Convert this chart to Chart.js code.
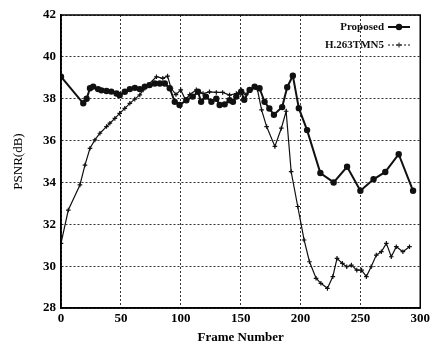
<!DOCTYPE html>
<html>
<head>
    <title>PSNR per Frame</title>
    <script src="https://cdn.jsdelivr.net/npm/chart.js"></script>
    <style>
        body { margin: 0; background: #fff; }
        .chart-container { width: 433px; height: 347px; }
    </style>
</head>
<body>
    <div class="chart-container">
        <canvas id="psnrChart" width="433" height="347"></canvas>
    </div>

    <script>
        // Proposed method: frame number and PSNR (dB)
        var proposedFrames = [0, 18.6, 21.4, 24.2, 26.9, 31, 33.8, 38, 42, 46.4,
            49, 53.3, 57.5, 61.7, 65.8, 70, 74, 78.3, 82.5, 86.7,
            90.8, 95, 99, 104.7, 110, 114.4, 117, 121, 125.6, 129.7,
            132.5, 136.7, 140.8, 143.6, 146.4, 150.5, 153, 157.5, 161.7, 165.8,
            170, 174, 177.8, 184.7, 188.9, 193.6, 198.6, 205.5, 216.6, 227.7,
            238.9, 250, 261, 270.8, 282, 294];
        var proposedPsnr = [39.05, 37.78, 38.0, 38.5, 38.58, 38.46, 38.4, 38.37, 38.34, 38.25,
            38.17, 38.33, 38.46, 38.52, 38.46, 38.58, 38.65, 38.73, 38.73, 38.73,
            38.5, 37.85, 37.7, 37.93, 38.1, 38.33, 37.85, 38.1, 37.85, 38.0,
            37.7, 37.73, 37.93, 37.85, 38.1, 38.33, 37.95, 38.42, 38.58, 38.5,
            37.85, 37.53, 37.23, 37.6, 38.55, 39.1, 37.55, 36.5, 34.45, 34.0,
            34.75, 33.6, 34.15, 34.5, 35.35, 33.6];

        // H.263 TMN5: frame number and PSNR (dB)
        var tmnFrames = [0, 6.1, 15.8, 20, 24.2, 28.3, 32.5, 38, 40.8, 45,
            49, 53.3, 57.5, 61.6, 65.8, 68.6, 72.7, 79.7, 85, 89,
            91.9, 96, 100, 104, 107.5, 113, 118.6, 124, 129.7, 135,
            140.8, 146.4, 150.5, 154.6, 160, 164, 167.5,
            171.7, 178.6, 184, 188, 192.2, 197.7, 203, 207.5, 213, 217,
            222.5, 227, 230.5, 235, 238.6, 242.5, 247, 251, 255, 259,
            263.3, 267.5, 271.7, 275.8, 280, 285.5, 291];
        var tmnPsnr = [31.09, 32.68, 33.88, 34.83, 35.63, 36.03, 36.35, 36.67, 36.83, 37.06,
            37.3, 37.54, 37.78, 37.98, 38.18, 38.42, 38.66, 39.05, 38.97, 39.08,
            38.5, 38.2, 38.42, 37.95, 38.2, 38.42, 38.25, 38.33, 38.3, 38.3,
            38.17, 38.25, 38.42, 38.2, 38.5, 38.45, 37.47,
            36.67, 35.72, 36.59, 37.4, 34.52, 32.85, 31.25, 30.21, 29.42, 29.18,
            28.94, 29.5, 30.37, 30.13, 29.97, 30.05, 29.81, 29.81, 29.5, 29.97,
            30.53, 30.69, 31.09, 30.45, 30.93, 30.69, 30.93];

        var xTicks = [0, 50, 100, 150, 200, 250, 300];
        var yTicks = [28, 30, 32, 34, 36, 38, 40, 42];

        function toPoints(xs, ys) {
            return xs.map(function(x, i) { return { x: x, y: ys[i] }; });
        }

        var serif = "'Liberation Serif', 'DejaVu Serif', serif";

        // legend drawn as text followed by a line sample, like the original figure
        var sideLegend = {
            id: 'sideLegend',
            afterDraw: function(chart) {
                var ctx = chart.ctx;
                var items = [
                    { label: 'Proposed', y: 27, width: 2, dash: [], radius: 2.2, style: 'circle' },
                    { label: 'H.263TMN5', y: 45, width: 1, dash: [2, 2], radius: 2.5, style: 'cross' }
                ];
                ctx.save();
                ctx.font = 'bold 11px ' + serif;
                ctx.fillStyle = '#111';
                ctx.textBaseline = 'middle';
                ctx.textAlign = 'right';
                items.forEach(function(it) {
                    ctx.fillText(it.label, 384, it.y);
                    ctx.beginPath();
                    ctx.strokeStyle = '#111';
                    ctx.lineWidth = it.width;
                    ctx.setLineDash(it.dash);
                    ctx.moveTo(388, it.y);
                    ctx.lineTo(410, it.y);
                    ctx.stroke();
                    ctx.setLineDash([]);
                    Chart.helpers.drawPoint(ctx, { pointStyle: it.style, radius: it.radius, borderWidth: 1.5 }, 399, it.y);
                    if (it.style === 'circle') ctx.fill();
                });
                ctx.restore();
            }
        };

        var ctx = document.getElementById('psnrChart').getContext('2d');
        var psnrChart = new Chart(ctx, {
            type: 'scatter',
            data: {
                datasets: [
                    {
                        label: 'Proposed',
                        data: toPoints(proposedFrames, proposedPsnr),
                        showLine: true,
                        borderColor: '#111',
                        backgroundColor: '#111',
                        borderWidth: 2,
                        pointRadius: 2.2,
                        pointStyle: 'circle'
                    },
                    {
                        label: 'H.263TMN5',
                        data: toPoints(tmnFrames, tmnPsnr),
                        showLine: true,
                        borderColor: '#111',
                        backgroundColor: '#111',
                        borderWidth: 1.2,
                        pointRadius: 2.3,
                        pointBorderWidth: 1.2,
                        pointStyle: 'cross'
                    }
                ]
            },
            options: {
                responsive: false,
                animation: false,
                layout: { padding: { top: 15, right: 12, left: 0, bottom: 0 } },
                plugins: {
                    legend: { display: false },
                    tooltip: { enabled: false }
                },
                scales: {
                    x: {
                        type: 'linear',
                        min: 0,
                        max: 300,
                        afterBuildTicks: function(axis) { axis.ticks = xTicks.map(function(v) { return { value: v }; }); },
                        afterFit: function(axis) { axis.height = 39; },
                        grid: { color: '#333', lineWidth: 1, drawTicks: false },
                        border: { display: true, color: '#000', width: 1.5, dash: [2, 2] },
                        ticks: { color: '#000', padding: 3, font: { family: serif, size: 13, weight: 'bold' } },
                        title: { display: true, text: 'Frame Number', color: '#000', padding: { top: 0, bottom: 2 }, font: { family: serif, size: 13, weight: 'bold' } }
                    },
                    y: {
                        min: 28,
                        max: 42,
                        afterBuildTicks: function(axis) { axis.ticks = yTicks.map(function(v) { return { value: v }; }); },
                        afterFit: function(axis) { axis.width = 61; },
                        grid: { color: '#333', lineWidth: 1, drawTicks: false },
                        border: { display: true, color: '#000', width: 1.5, dash: [2, 2] },
                        ticks: { color: '#000', padding: 5, font: { family: serif, size: 13, weight: 'bold' } },
                        title: { display: true, text: 'PSNR(dB)', color: '#000', padding: { top: 11, bottom: 0 }, font: { family: serif, size: 13 } }
                    }
                }
            },
            plugins: [sideLegend, {
                id: 'frame',
                afterDraw: function(chart) {
                    var a = chart.chartArea;
                    var c = chart.ctx;
                    c.save();
                    c.strokeStyle = '#000';
                    c.lineWidth = 1.5;
                    c.strokeRect(a.left, a.top, a.right - a.left, a.bottom - a.top);
                    c.restore();
                }
            }]
        });
    </script>
</body>
</html>
